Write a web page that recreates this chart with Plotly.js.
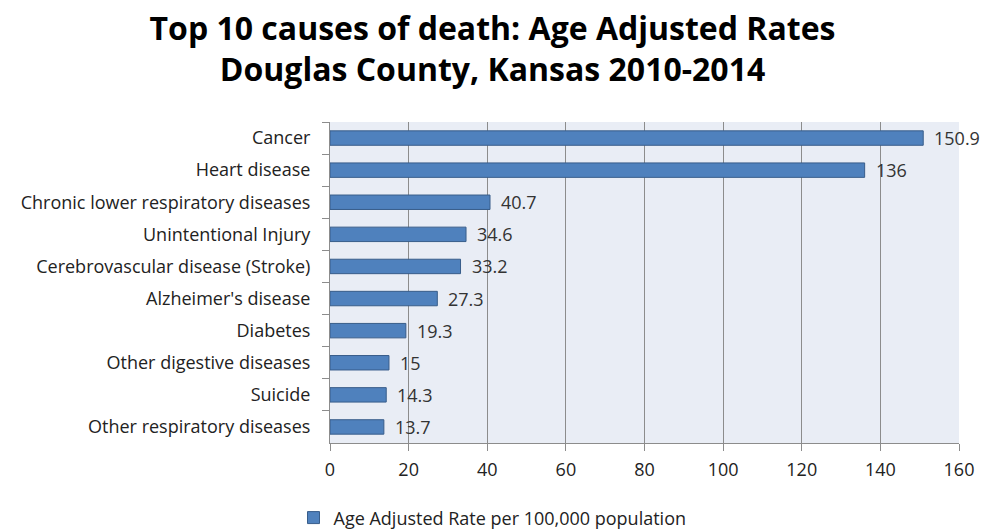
<!DOCTYPE html>
<html>
<head>
<meta charset="utf-8">
<script src="https://cdn.plot.ly/plotly-3.0.1.min.js"></script>
<style>html,body{margin:0;padding:0;background:#fff;}#chart{width:985px;height:529px;}</style>
</head>
<body>
<div id="chart"></div>
<script>
const causes = ["Cancer","Heart disease","Chronic lower respiratory diseases","Unintentional Injury","Cerebrovascular disease (Stroke)","Alzheimer's disease","Diabetes","Other digestive diseases","Suicide","Other respiratory diseases"];
const rates = [150.9,136,40.7,34.6,33.2,27.3,19.3,15,14.3,13.7];
const rateLabels = ["150.9","136","40.7","34.6","33.2","27.3","19.3","15","14.3","13.7"];
const xTicks = [0,20,40,60,80,100,120,140,160];
const seriesName = "Age Adjusted Rate per 100,000 population";

const font = "'Open Sans', 'Noto Sans', sans-serif";
const trace = {
  type: "bar", orientation: "h",
  x: rates, y: causes, name: seriesName,
  width: 0.45,
  marker: {color: "#4f81bd", line: {color: "#385d8a", width: 1}},
  hoverinfo: "x+y"
};
const annotations = causes.map((c, i) => ({
  x: rates[i], y: c, xref: "x", yref: "y",
  text: rateLabels[i], showarrow: false, xanchor: "left", xshift: 9,
  font: {family: font, size: 18, color: "#333"}
}));
const layout = {
  width: 985, height: 529,
  margin: {l: 330, r: 26, t: 122, b: 86},
  paper_bgcolor: "#ffffff", plot_bgcolor: "#e9edf5",
  title: {
    text: "Top 10 causes of death: Age Adjusted Rates<br>Douglas County, Kansas 2010-2014",
    font: {family: font, size: 32, color: "#000", weight: "bold"},
    xref: "container", x: 0.5, xanchor: "center",
    yref: "container", y: 0.925, yanchor: "top"
  },
  xaxis: {
    range: [0, 160], tickvals: xTicks, ticktext: xTicks.map(String),
    showgrid: true, gridcolor: "#8c8c8c", gridwidth: 1,
    showline: true, linecolor: "#8c8c8c", linewidth: 1,
    ticks: "outside", ticklen: 7, tickcolor: "#8c8c8c",
    zeroline: false, fixedrange: true, ticklabelstandoff: 3,
    tickfont: {family: font, size: 18, color: "#222"}
  },
  yaxis: {
    categoryorder: "array", categoryarray: causes, autorange: "reversed",
    showline: true, linecolor: "#8c8c8c", linewidth: 1,
    ticks: "outside", ticklen: 7, tickcolor: "#8c8c8c", tickson: "boundaries",
    showgrid: false, fixedrange: true, ticklabelstandoff: 15,
    tickfont: {family: font, size: 18, color: "#222"}
  },
  showlegend: true,
  legend: {
    orientation: "h", xref: "container", x: 0.5, xanchor: "center",
    yref: "container", y: 0.021, yanchor: "middle",
    font: {family: font, size: 18, color: "#222"}
  },
  annotations: annotations
};
Plotly.newPlot("chart", [trace], layout, {displayModeBar: false, staticPlot: true});
</script>
</body>
</html>
